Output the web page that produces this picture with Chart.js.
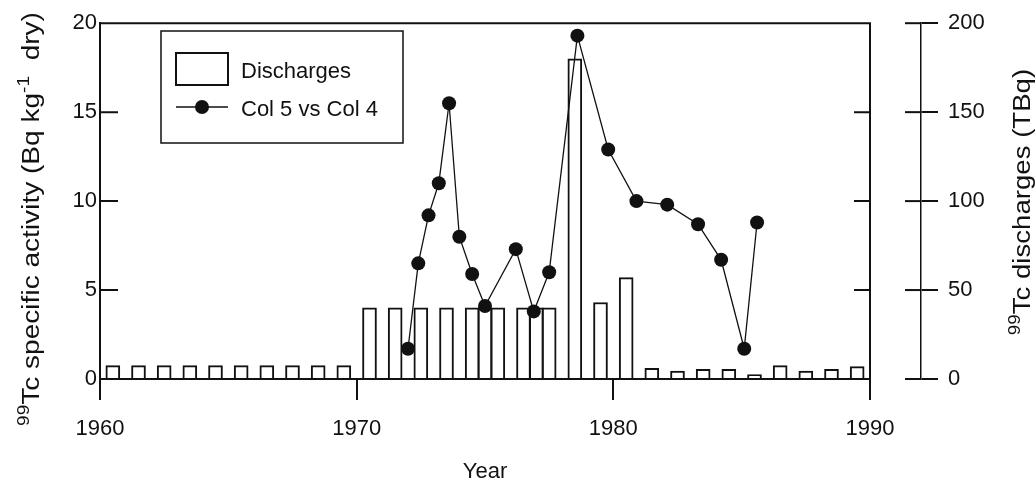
<!DOCTYPE html>
<html>
<head>
<meta charset="utf-8">
<script src="https://cdn.jsdelivr.net/npm/chart.js@4.4.1/dist/chart.umd.min.js"></script>
<style>
  html, body { margin: 0; padding: 0; background: #fff; }
  #wrap { width: 1036px; height: 491px; position: relative; }
</style>
</head>
<body>
<div id="wrap"><canvas id="tcChart"></canvas></div>
<script>
  // ----- data -----
  // discharge bars: start year of each bar, value in TBq (right axis)
  const barYears = [1960, 1961, 1962, 1963, 1964, 1965, 1966, 1967, 1968, 1969,
    1970, 1971, 1972, 1973, 1974, 1974.5, 1975, 1976, 1976.5, 1977,
    1978, 1979, 1980, 1981, 1982, 1983, 1984, 1985, 1986, 1987, 1988, 1989];
  const discharges = [7.5, 7.5, 7.5, 7.5, 7.5, 7.5, 7.5, 7.5, 7.5, 7.5,
    40, 40, 40, 40, 40, 40, 40, 40, 40, 40,
    180, 43, 57, 6, 4.5, 5.5, 5.5, 2.5, 7.5, 4.5, 5.5, 7];

  // specific activity samples (left axis, Bq kg-1 dry)
  const sampleYears = [1972.0, 1972.4, 1972.8, 1973.2, 1973.6, 1974.0, 1974.5, 1975.0,
    1976.2, 1976.9, 1977.5, 1978.6, 1979.8, 1980.9, 1982.1, 1983.3, 1984.2, 1985.1, 1985.6];
  const activity = [1.7, 6.5, 9.2, 11.0, 15.5, 8.0, 5.9, 4.1,
    7.3, 3.8, 6.0, 19.3, 12.9, 10.0, 9.8, 8.7, 6.7, 1.7, 8.8];

  const xTicks = [1960, 1970, 1980, 1990];
  const leftTicks = [0, 5, 10, 15, 20];
  const rightTicks = [0, 50, 100, 150, 200];

  const FONT = "'Liberation Sans', Arial, sans-serif";
  Chart.defaults.font.family = FONT;
  Chart.defaults.color = '#111';

  // frame, inner ticks, legend and the two rotated titles
  const decorations = {
    id: 'decorations',
    afterDraw(chart) {
      const ctx = chart.ctx;
      const a = chart.chartArea;
      const y = chart.scales.y;
      const y2 = chart.scales.y2;
      ctx.save();
      ctx.strokeStyle = '#111';

      // top and right side of the frame
      ctx.lineWidth = 2;
      ctx.beginPath();
      ctx.moveTo(a.left, a.top);
      ctx.lineTo(a.right, a.top);
      ctx.lineTo(a.right, a.bottom);
      ctx.stroke();

      // inward ticks on left and right frame
      leftTicks.slice(1, -1).forEach(v => {
        const py = y.getPixelForValue(v);
        ctx.beginPath();
        ctx.moveTo(a.left, py); ctx.lineTo(a.left + 18, py);
        ctx.moveTo(a.right, py); ctx.lineTo(a.right - 16, py);
        ctx.stroke();
      });

      // left half of the right axis ticks
      rightTicks.forEach(v => {
        const py = y2.getPixelForValue(v);
        ctx.beginPath();
        ctx.moveTo(y2.left - 16, py); ctx.lineTo(y2.left, py);
        ctx.stroke();
      });

      // legend
      ctx.lineWidth = 1.5;
      ctx.strokeRect(161, 31, 242, 112);
      ctx.lineWidth = 2;
      ctx.fillStyle = '#fff';
      ctx.fillRect(176, 53, 52, 32);
      ctx.strokeRect(176, 53, 52, 32);
      ctx.lineWidth = 1.3;
      ctx.beginPath();
      ctx.moveTo(176, 107); ctx.lineTo(228, 107);
      ctx.stroke();
      ctx.fillStyle = '#111';
      ctx.beginPath();
      ctx.arc(202, 107, 7, 0, Math.PI * 2);
      ctx.fill();
      ctx.font = "22px " + FONT;
      ctx.textBaseline = 'alphabetic';
      ctx.textAlign = 'left';
      ctx.fillText(chart.data.datasets[1].label, 241, 78);
      ctx.fillText(chart.data.datasets[0].label, 241, 116);

      // rotated titles with superscripts (the scan is stretched vertically)
      function rotatedTitle(cx, cy, parts, size, stretch) {
        ctx.save();
        ctx.translate(cx, cy);
        ctx.rotate(-Math.PI / 2);
        ctx.scale(stretch, 1);
        let total = 0;
        parts.forEach(p => {
          ctx.font = (p.sup ? size * 0.68 : size) + "px " + FONT;
          p.w = ctx.measureText(p.t).width;
          total += p.w;
        });
        let x = -total / 2;
        ctx.textAlign = 'left';
        parts.forEach(p => {
          ctx.font = (p.sup ? size * 0.68 : size) + "px " + FONT;
          ctx.fillText(p.t, x, p.sup ? -size * 0.45 : 0);
          x += p.w;
        });
        ctx.restore();
      }
      rotatedTitle(39, 219, [
        { t: '99', sup: true }, { t: 'Tc specific activity (Bq kg' },
        { t: '-1', sup: true }, { t: '  dry)' }], 23, 1.22);
      rotatedTitle(1030, 202, [
        { t: '99', sup: true }, { t: 'Tc discharges (TBq)' }], 23, 1.2);

      ctx.restore();
    }
  };

  const ctx = document.getElementById('tcChart').getContext('2d');

  new Chart(ctx, {
    data: {
      datasets: [{
        type: 'line',
        label: 'Col 5 vs Col 4',
        data: sampleYears.map((yr, i) => ({ x: yr, y: activity[i] })),
        yAxisID: 'y',
        borderColor: '#111',
        borderWidth: 1.3,
        pointRadius: 7,
        pointBackgroundColor: '#111',
        pointBorderWidth: 0,
        tension: 0,
        order: 0
      }, {
        type: 'bar',
        label: 'Discharges',
        data: barYears.map((yr, i) => ({ x: yr + 0.5, y: discharges[i] })),
        yAxisID: 'y2',
        backgroundColor: '#fff',
        borderColor: '#111',
        borderWidth: 2,
        barThickness: 14,
        order: 1
      }]
    },
    options: {
      responsive: true,
      maintainAspectRatio: false,
      animation: false,
      layout: { padding: { top: 23, left: 0, right: 0, bottom: 0 } },
      plugins: {
        legend: { display: false },
        tooltip: { enabled: false }
      },
      scales: {
        x: {
          type: 'linear',
          min: 1960, max: 1990,
          offset: false,
          afterBuildTicks: s => { s.ticks = xTicks.map(v => ({ value: v })); },
          afterFit: s => { s.height = 112; },
          ticks: { callback: v => String(v), font: { size: 22 }, padding: 16, maxRotation: 0 },
          grid: { offset: false, drawOnChartArea: false, tickLength: 21, color: '#111', lineWidth: 2 },
          border: { color: '#111', width: 2 },
          title: { display: true, text: 'Year', font: { size: 22 }, padding: { top: 0, bottom: 6 } }
        },
        y: {
          position: 'left',
          min: 0, max: 20,
          afterBuildTicks: s => { s.ticks = leftTicks.map(v => ({ value: v })); },
          afterFit: s => { s.width = 100; },
          ticks: { font: { size: 22 }, padding: 3 },
          grid: { drawOnChartArea: false, drawTicks: false },
          border: { color: '#111', width: 2 }
        },
        gap: {
          position: 'right',
          weight: 0,
          afterFit: s => { s.width = 51; },
          ticks: { display: false },
          grid: { display: false },
          border: { display: false }
        },
        y2: {
          position: 'right',
          weight: 1,
          min: 0, max: 200,
          afterBuildTicks: s => { s.ticks = rightTicks.map(v => ({ value: v })); },
          afterFit: s => { s.width = 115; },
          ticks: { font: { size: 22 }, padding: 10 },
          grid: { drawOnChartArea: false, tickLength: 17, color: '#111', lineWidth: 2 },
          border: { color: '#111', width: 1.5 }
        }
      }
    },
    plugins: [decorations]
  });
</script>
</body>
</html>
